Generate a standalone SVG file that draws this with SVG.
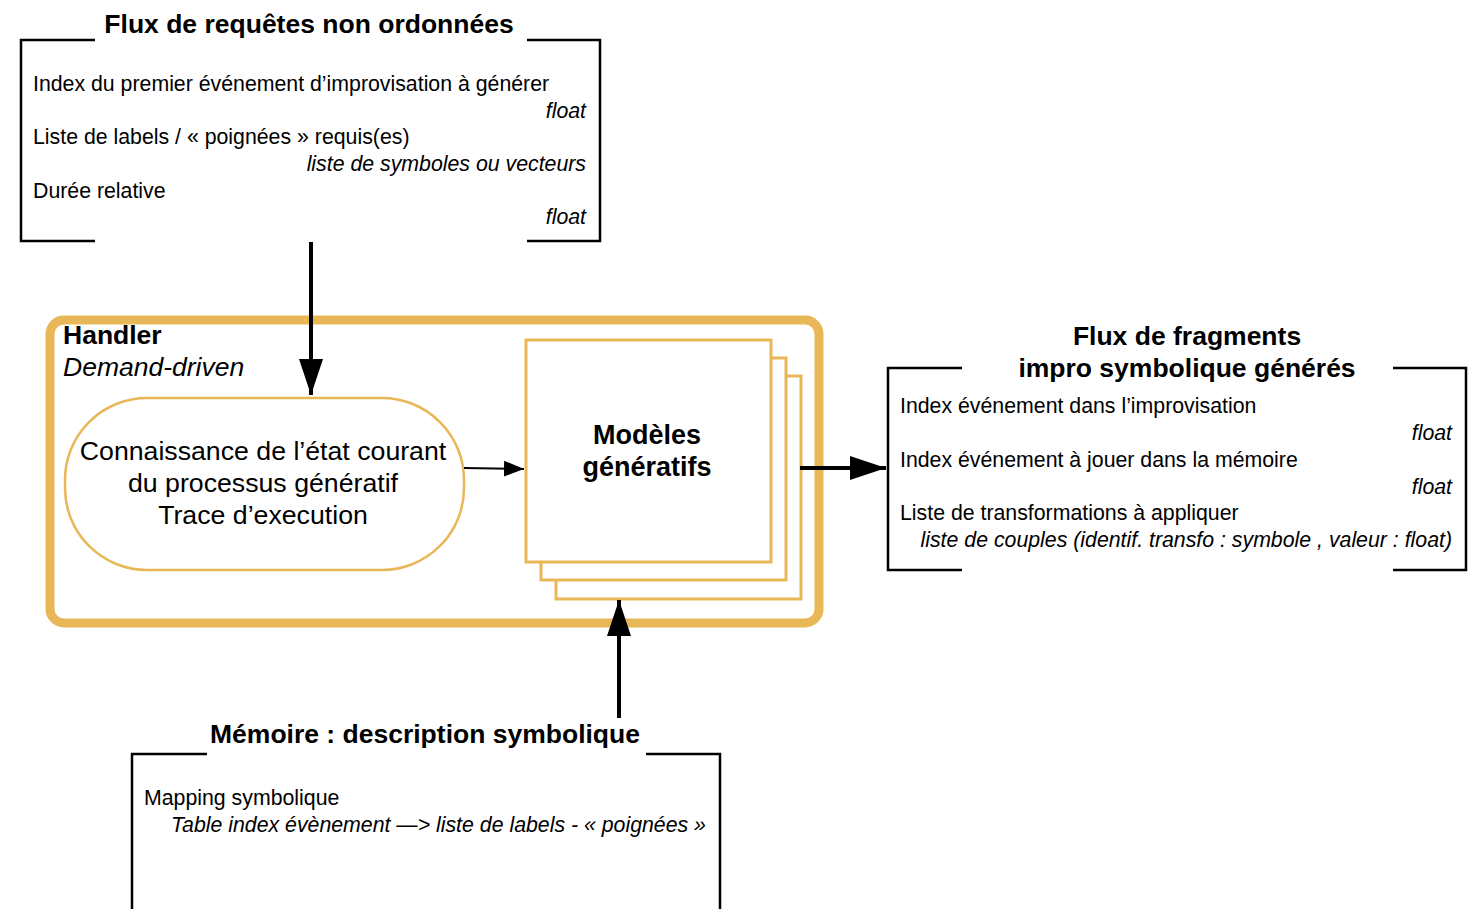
<svg xmlns="http://www.w3.org/2000/svg" width="1471" height="909" viewBox="0 0 1471 909">
<style>
text{font-family:"Liberation Sans",Arial,sans-serif;fill:#000}
.t{font-size:26.5px;font-weight:bold}
.b{font-size:21.3px}
.i{font-size:21.3px;font-style:italic}
.bk{fill:none;stroke:#000;stroke-width:2.5}
.or{fill:#fff;stroke:#E8B757}
</style>
<defs>
<marker id="ah" viewBox="0 0 15 10" refX="15" refY="5" markerWidth="9" markerHeight="6" markerUnits="strokeWidth" orient="auto"><path d="M0,0 L15,5 L0,10 Z" fill="#000"/></marker>
<marker id="as" viewBox="0 0 10 10" refX="10" refY="5" markerWidth="10" markerHeight="10" markerUnits="strokeWidth" orient="auto"><path d="M0,1 L10,5 L0,9 Z" fill="#000"/></marker>
</defs>
<rect width="1471" height="909" fill="#fff"/>

<g id="requetes">
<path class="bk" d="M95,40 H21 V241 H95 M527,40 H600 V241 H527"/>
<text class="t" x="309" y="33" text-anchor="middle">Flux de requêtes non ordonnées</text>
<text class="b" x="33" y="91">Index du premier événement d’improvisation à générer</text>
<text class="i" x="586" y="118" text-anchor="end">float</text>
<text class="b" x="33" y="144">Liste de labels / « poignées » requis(es)</text>
<text class="i" x="586" y="171" text-anchor="end">liste de symboles ou vecteurs</text>
<text class="b" x="33" y="198">Durée relative</text>
<text class="i" x="586" y="224" text-anchor="end">float</text>
</g>

<g id="handler">
<rect class="or" x="50" y="320" width="769" height="303" rx="14" stroke-width="9"/>
<text class="t" x="63" y="344">Handler</text>
<text x="63" y="376" style="font-size:26.5px;font-style:italic">Demand-driven</text>
</g>

<g id="connaissance">
<rect class="or" x="65" y="398" width="399" height="172" rx="82" stroke-width="2.5"/>
<text x="263" y="460" text-anchor="middle" style="font-size:26.7px">Connaissance de l’état courant</text>
<text x="263" y="492" text-anchor="middle" style="font-size:26.7px">du processus génératif</text>
<text x="263" y="524" text-anchor="middle" style="font-size:26.7px">Trace d’execution</text>
</g>

<g id="modeles">
<rect class="or" x="556" y="376" width="245" height="223" stroke-width="3"/>
<rect class="or" x="541" y="358" width="245" height="222" stroke-width="3"/>
<rect class="or" x="526" y="340" width="245" height="222" stroke-width="3"/>
<text x="647" y="444" text-anchor="middle" style="font-size:27px;font-weight:bold">Modèles</text>
<text x="647" y="476" text-anchor="middle" style="font-size:27px;font-weight:bold">génératifs</text>
</g>

<g id="fragments">
<path class="bk" d="M962,368 H888 V570 H962 M1393,368 H1466 V570 H1393"/>
<text class="t" x="1187" y="345" text-anchor="middle">Flux de fragments</text>
<text class="t" x="1187" y="377" text-anchor="middle">impro symbolique générés</text>
<text class="b" x="900" y="413">Index événement dans l’improvisation</text>
<text class="i" x="1452" y="440" text-anchor="end">float</text>
<text class="b" x="900" y="467">Index événement à jouer dans la mémoire</text>
<text class="i" x="1452" y="494" text-anchor="end">float</text>
<text class="b" x="900" y="520">Liste de transformations à appliquer</text>
<text class="i" x="1452" y="547" text-anchor="end">liste de couples (identif. transfo : symbole , valeur : float)</text>
</g>

<g id="memoire">
<path class="bk" d="M207,754 H132 V912 M646,754 H720 V912"/>
<text class="t" x="425" y="743" text-anchor="middle">Mémoire : description symbolique</text>
<text class="b" x="144" y="805">Mapping symbolique</text>
<text class="i" x="171" y="832">Table index évènement —&gt; liste de labels - « poignées »</text>
</g>

<g id="connectors" stroke="#000" fill="none">
<line x1="311" y1="242" x2="311" y2="395" stroke-width="4" marker-end="url(#ah)"/>
<line x1="464" y1="468" x2="524" y2="469" stroke-width="2" marker-end="url(#as)"/>
<line x1="800" y1="468" x2="886" y2="468" stroke-width="4" marker-end="url(#ah)"/>
<line x1="619" y1="718" x2="619" y2="600" stroke-width="4" marker-end="url(#ah)"/>
</g>
</svg>
